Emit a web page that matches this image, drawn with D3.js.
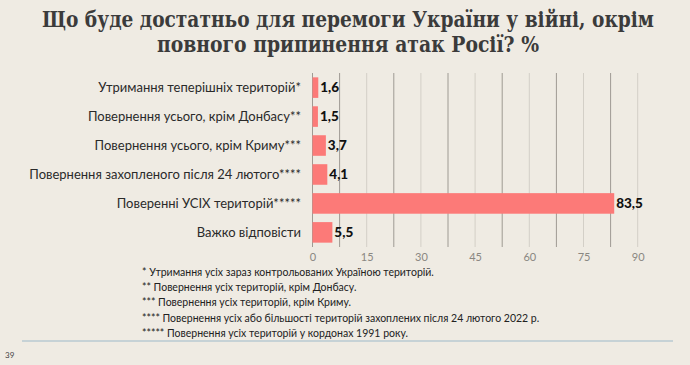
<!DOCTYPE html>
<html><head><meta charset="utf-8">
<script src="https://cdn.jsdelivr.net/npm/d3@7"></script>
<style>
html,body{margin:0;padding:0;background:#efebe3;}
svg{display:block;}
</style></head>
<body>
<script>
const titleLines = ["Що буде достатньо для перемоги України у війні, окрім", "повного припинення атак Росії? %"];
const categories = ["Утримання теперішніх територій*", "Повернення усього, крім Донбасу**", "Повернення усього, крім Криму***", "Повернення захопленого після 24 лютого****", "Поверенні УСІХ територій*****", "Важко відповісти"];
const values = [1.6, 1.5, 3.7, 4.1, 83.5, 5.5];
const tickValues = [0, 15, 30, 45, 60, 75, 90];
const gridValues = [7.5, 15, 22.5, 30, 37.5, 45, 52.5, 60, 67.5, 75, 82.5, 90];
const footnotes = [
  "* Утримання усіх зараз контрольованих Україною територій.",
  "** Повернення усіх територій, крім Донбасу.",
  "*** Повернення усіх територій, крім Криму.",
  "**** Повернення усіх або більшості територій захоплених після 24 лютого 2022 р.",
  "***** Повернення усіх територій у кордонах 1991 року."
];
const pageNumber = "39";

const W = 690, H = 365;
const svg = d3.select("body").append("svg").attr("width", W).attr("height", H);
svg.append("rect").attr("width", W).attr("height", H).attr("fill", "#efebe3");

// Title
const titleWidths = [612, 382];
svg.selectAll("text.title").data(titleLines).join("text")
  .attr("class", "title")
  .attr("x", 348).attr("y", (d, i) => 27 + i * 25)
  .attr("text-anchor", "middle")
  .attr("font-family", "'DejaVu Serif Condensed', 'DejaVu Serif', serif")
  .attr("font-weight", "bold")
  .attr("font-size", 22)
  .attr("fill", "#3b3b3b")
  .attr("textLength", (d, i) => titleWidths[i])
  .attr("lengthAdjust", "spacingAndGlyphs")
  .text(d => d);

const x = d3.scaleLinear().domain([0, 90]).range([312.5, 637.7]);
const y = d3.scaleBand().domain(categories).range([73, 247]).paddingInner(0.29).paddingOuter(0.15);

// grid
svg.append("g").selectAll("line").data(gridValues).join("line")
  .attr("x1", d => x(d)).attr("x2", d => x(d))
  .attr("y1", 73).attr("y2", 247)
  .attr("stroke", (d, i) => i % 2 === 0 ? "#9e9a93" : "#d3cfc7")
  .attr("stroke-width", 1);

// axis line
svg.append("line").attr("x1", x(0)).attr("x2", x(0)).attr("y1", 73).attr("y2", 247)
  .attr("stroke", "#9e9a93").attr("stroke-width", 1);

// bars
svg.append("g").selectAll("rect").data(values).join("rect")
  .attr("x", x(0))
  .attr("y", (d, i) => y(categories[i]))
  .attr("width", d => x(d) - x(0))
  .attr("height", y.bandwidth())
  .attr("fill", "#fc7a78");

// value labels
const fmt = d => d3.format(".1f")(d).replace(".", ",");
svg.append("g").selectAll("text").data(values).join("text")
  .attr("x", d => x(d) + 2)
  .attr("y", (d, i) => y(categories[i]) + y.bandwidth() / 2)
  .attr("dy", "0.35em")
  .attr("font-family", "Lato, 'Open Sans', sans-serif")
  .attr("font-weight", "900")
  .attr("font-size", 13.5)
  .attr("fill", "#111")
  .text(fmt);

// category labels
svg.append("g").selectAll("text").data(categories).join("text")
  .attr("x", 301)
  .attr("y", d => y(d) + y.bandwidth() / 2)
  .attr("dy", "0.35em")
  .attr("text-anchor", "end")
  .attr("font-family", "Lato, 'Open Sans', sans-serif")
  .attr("font-size", 13)
  .attr("fill", "#2a2a2a")
  .text(d => d);

// x axis ticks
const xAxis = d3.axisBottom(x).tickValues(tickValues).tickSize(0).tickPadding(0);
const gx = svg.append("g").attr("transform", "translate(0,253)").call(xAxis);
gx.select(".domain").remove();
gx.selectAll("text")
  .attr("font-family", "Lato, 'Open Sans', sans-serif")
  .attr("font-size", 11)
  .attr("fill", "#8a8782");

// footnotes
svg.append("g").selectAll("text").data(footnotes).join("text")
  .attr("x", 142)
  .attr("y", (d, i) => 272 + i * 15.4)
  .attr("dy", "0.35em")
  .attr("font-family", "Lato, 'Open Sans', sans-serif")
  .attr("font-size", 10.5)
  .attr("fill", "#222")
  .text(d => d);

// separator line
svg.append("line").attr("x1", 22).attr("x2", 673).attr("y1", 341).attr("y2", 341)
  .attr("stroke", "#b9cad2").attr("stroke-width", 1.5);

svg.append("text").attr("x", 5).attr("y", 358)
  .attr("font-family", "Lato, 'Open Sans', sans-serif")
  .attr("font-size", 8).attr("fill", "#444").text(pageNumber);
</script>
</body></html>
